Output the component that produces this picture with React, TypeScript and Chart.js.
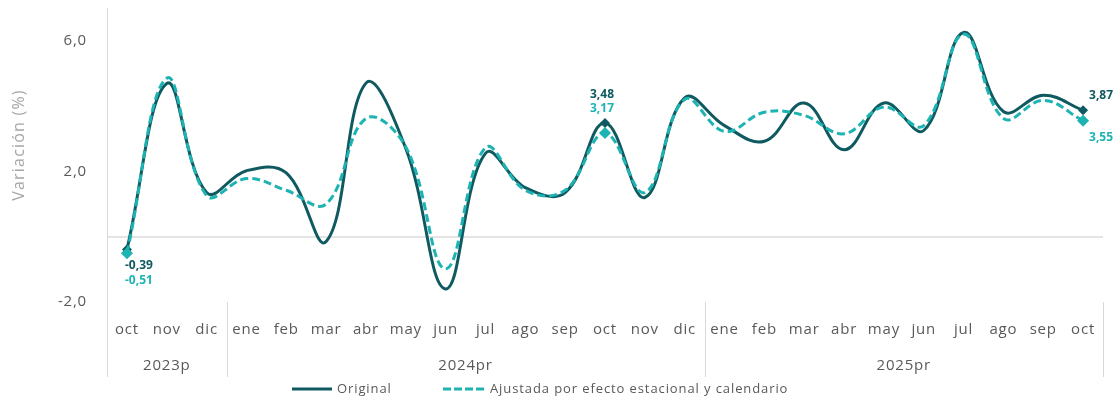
import React, { useEffect, useRef } from 'react';
import { Chart, registerables } from 'chart.js';

Chart.register(...registerables);

const months = ['oct', 'nov', 'dic', 'ene', 'feb', 'mar', 'abr', 'may', 'jun', 'jul', 'ago', 'sep', 'oct', 'nov', 'dic', 'ene', 'feb', 'mar', 'abr', 'may', 'jun', 'jul', 'ago', 'sep', 'oct'];
const years = ['2023p', '2024pr', '2025pr'];
const yearSpans = [3, 12, 10];
const original = [-0.39, 4.69, 1.35, 2.02, 1.95, -0.15, 4.7, 2.7, -1.6, 2.55, 1.5, 1.35, 3.48, 1.2, 4.25, 3.4, 2.92, 4.09, 2.66, 4.09, 3.25, 6.25, 3.83, 4.33, 3.87];
const adjusted = [-0.51, 4.85, 1.26, 1.78, 1.42, 1.0, 3.62, 2.75, -0.98, 2.72, 1.42, 1.42, 3.17, 1.35, 4.2, 3.22, 3.81, 3.71, 3.15, 3.97, 3.4, 6.2, 3.62, 4.17, 3.55];
const yTicks = [-2, 0, 2, 6];
const labelledIdx = [0, 12, 24];
const seriesNames = ['Original', 'Ajustada por efecto estacional y calendario'];
const yTitle = 'Variación (%)';

const DARK = '#0f5a60';
const CYAN = '#1db3b3';
const GRAY = '#595959';
const LINE = '#d9d9d9';
const FONT = "'Open Sans', sans-serif";

const fmt = (v: number, d: number) => v.toFixed(d).replace('.', ',');

export default function App() {
  const ref = useRef<HTMLCanvasElement>(null);

  useEffect(() => {
    document.body.style.margin = '0';
    const canvas = ref.current;
    if (!canvas) return;

    const overlay = {
      id: 'overlay',
      beforeDraw(chart: any) {
        chart.ctx.letterSpacing = '0.8px';
      },
      afterDraw(chart: any) {
        const { ctx, chartArea, scales } = chart;
        const x = scales.x;
        const y = scales.y;
        const px = (i: number) => x.getPixelForValue(i);
        const bottomY = 377;
        ctx.save();
        ctx.letterSpacing = '0.8px';
        ctx.strokeStyle = LINE;
        ctx.lineWidth = 1;
        ctx.beginPath();
        ctx.moveTo(Math.round(chartArea.left) + 0.5, chartArea.top);
        ctx.lineTo(Math.round(chartArea.left) + 0.5, bottomY);
        let start = 0;
        const groups: Array<[number, number]> = [];
        yearSpans.forEach((n) => {
          groups.push([start, start + n - 1]);
          start += n;
        });
        groups.forEach(([s, e], k) => {
          let sx;
          if (k < groups.length - 1) sx = (px(e) + px(e + 1)) / 2;
          else sx = chartArea.right;
          sx = Math.round(sx) + 0.5;
          ctx.moveTo(sx, chartArea.bottom);
          ctx.lineTo(sx, bottomY);
        });
        ctx.stroke();

        ctx.fillStyle = GRAY;
        ctx.font = `15px ${FONT}`;
        ctx.textAlign = 'center';
        ctx.textBaseline = 'middle';
        groups.forEach(([s, e], k) => {
          ctx.fillText(years[k], (px(s) + px(e)) / 2, 366);
        });

        ctx.save();
        ctx.translate(19, 145);
        ctx.rotate(-Math.PI / 2);
        ctx.fillStyle = '#a6a6a6';
        ctx.font = `16px ${FONT}`;
        ctx.letterSpacing = '1.2px';
        ctx.fillText(yTitle, 0, 0);
        ctx.restore();

        ctx.font = `bold 12px ${FONT}`;
        ctx.letterSpacing = '0px';
        ctx.textAlign = 'center';
        labelledIdx.forEach((i, n) => {
          const xo = px(i);
          const yo = y.getPixelForValue(original[i]);
          const ya = y.getPixelForValue(adjusted[i]);
          if (n === 0) {
            ctx.fillStyle = DARK;
            ctx.fillText(fmt(original[i], 2), xo + 12, yo + 16);
            ctx.fillStyle = CYAN;
            ctx.fillText(fmt(adjusted[i], 2), xo + 12, ya + 27);
          } else if (n === 1) {
            ctx.fillStyle = DARK;
            ctx.fillText(fmt(original[i], 2), xo - 3, yo - 28);
            ctx.fillStyle = CYAN;
            ctx.fillText(fmt(adjusted[i], 2), xo - 3, yo - 14);
          } else {
            ctx.fillStyle = DARK;
            ctx.fillText(fmt(original[i], 2), xo + 18, yo - 15);
            ctx.fillStyle = CYAN;
            ctx.fillText(fmt(adjusted[i], 2), xo + 18, ya + 17);
          }
        });

        const ly = 389;
        ctx.font = `13px ${FONT}`;
        ctx.letterSpacing = '0.9px';
        ctx.textAlign = 'left';
        ctx.fillStyle = GRAY;
        ctx.lineWidth = 3;
        ctx.strokeStyle = DARK;
        ctx.setLineDash([]);
        ctx.beginPath();
        ctx.moveTo(292, ly);
        ctx.lineTo(332, ly);
        ctx.stroke();
        ctx.fillText(seriesNames[0], 337, ly);
        ctx.strokeStyle = CYAN;
        ctx.setLineDash([8, 3]);
        ctx.beginPath();
        ctx.moveTo(443, ly);
        ctx.lineTo(486, ly);
        ctx.stroke();
        ctx.setLineDash([]);
        ctx.fillText(seriesNames[1], 490, ly);
        ctx.restore();
      },
    };

    const radii = (r: number) => original.map((_, i) => (labelledIdx.includes(i) ? r : 0));

    const chart = new Chart(canvas, {
      type: 'line',
      data: {
        labels: months,
        datasets: [
          {
            label: seriesNames[0],
            data: original,
            borderColor: DARK,
            backgroundColor: DARK,
            borderWidth: 3,
            tension: 0.4,
            pointStyle: 'rectRot',
            pointRadius: radii(5),
            pointHoverRadius: radii(5),
            pointBorderWidth: 0,
            order: 1,
          },
          {
            label: seriesNames[1],
            data: adjusted,
            borderColor: CYAN,
            backgroundColor: CYAN,
            borderWidth: 3,
            borderDash: [8, 4],
            tension: 0.4,
            pointStyle: 'rectRot',
            pointRadius: radii(6),
            pointHoverRadius: radii(6),
            pointBorderWidth: 0,
            order: 0,
          },
        ],
      },
      options: {
        animation: false,
        responsive: false,
        maintainAspectRatio: false,
        layout: { padding: { top: 8, right: 15, left: 0, bottom: 0 } },
        plugins: {
          legend: { display: false },
          tooltip: { enabled: false },
        },
        scales: {
          x: {
            type: 'category',
            offset: true,
            grid: { display: false },
            border: { display: false },
            ticks: {
              color: GRAY,
              font: { family: FONT, size: 15 },
              padding: 11,
              maxRotation: 0,
              autoSkip: false,
            },
            afterFit(scale: any) {
              scale.height = 98;
              scale.paddingLeft = 0;
              scale.paddingRight = 0;
            },
          },
          y: {
            min: -2,
            max: 7,
            afterBuildTicks(axis: any) {
              axis.ticks = yTicks.map((v) => ({ value: v }));
            },
            afterFit(scale: any) {
              scale.width = 107;
              scale.paddingTop = 0;
              scale.paddingBottom = 0;
            },
            grid: {
              drawTicks: false,
              lineWidth: 2,
              color: (c: any) => (c.tick && c.tick.value === 0 ? '#e4e4e4' : 'rgba(0,0,0,0)'),
            },
            border: { display: false },
            ticks: {
              color: GRAY,
              font: { family: FONT, size: 15 },
              padding: 20,
              callback: (v: any) => (Number(v) === 0 ? '' : fmt(Number(v), 1)),
            },
          },
        },
      },
      plugins: [overlay],
    });

    return () => chart.destroy();
  }, []);

  return <canvas ref={ref} width={1118} height={400} style={{ display: 'block' }} />;
}
